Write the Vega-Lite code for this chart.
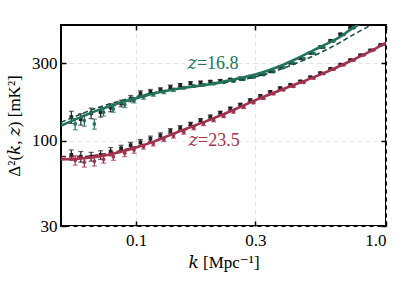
{
"$schema":"https://vega.github.io/schema/vega-lite/v6.json",
"width":325,"height":201,"autosize":"none",
"padding":{"left":61,"top":25,"right":13,"bottom":57},
"background":"white",
"config":{"view":{"stroke":"black","strokeWidth":2},"font":"'Liberation Serif', 'DejaVu Serif', serif",
"axis":{"domain":false,"labelFont":"'Liberation Serif', 'DejaVu Serif', serif","labelFontSize":17,"labelColor":"black","titleFont":"'Liberation Serif', 'DejaVu Serif', serif","titleFontSize":17,"titleFontWeight":"normal","titleColor":"black","tickColor":"black","tickWidth":1.5,"gridColor":"#e3e3e3","gridDash":[4,4],"gridWidth":1}},
"datasets":{
"lines":[
{"k":0.05,"v":124,"c":"g","st":"s"},{"k":0.06,"v":140,"c":"g","st":"s"},{"k":0.07,"v":154,"c":"g","st":"s"},{"k":0.08,"v":165,"c":"g","st":"s"},{"k":0.09,"v":175,"c":"g","st":"s"},{"k":0.1,"v":183,"c":"g","st":"s"},{"k":0.12,"v":197,"c":"g","st":"s"},{"k":0.15,"v":210,"c":"g","st":"s"},{"k":0.18,"v":218,"c":"g","st":"s"},{"k":0.22,"v":230,"c":"g","st":"s"},{"k":0.26,"v":243,"c":"g","st":"s"},{"k":0.3,"v":256,"c":"g","st":"s"},{"k":0.36,"v":280,"c":"g","st":"s"},{"k":0.45,"v":326,"c":"g","st":"s"},{"k":0.55,"v":380,"c":"g","st":"s"},{"k":0.65,"v":432,"c":"g","st":"s"},{"k":0.72,"v":482,"c":"g","st":"s"},{"k":0.78,"v":520,"c":"g","st":"s"},
{"k":0.05,"v":130,"c":"gd","st":"d"},{"k":0.06,"v":146,"c":"gd","st":"d"},{"k":0.07,"v":160,"c":"gd","st":"d"},{"k":0.08,"v":170,"c":"gd","st":"d"},{"k":0.1,"v":187,"c":"gd","st":"d"},{"k":0.12,"v":199,"c":"gd","st":"d"},{"k":0.15,"v":211,"c":"gd","st":"d"},{"k":0.18,"v":218,"c":"gd","st":"d"},{"k":0.22,"v":227,"c":"gd","st":"d"},{"k":0.26,"v":236,"c":"gd","st":"d"},{"k":0.3,"v":247,"c":"gd","st":"d"},{"k":0.36,"v":268,"c":"gd","st":"d"},{"k":0.45,"v":305,"c":"gd","st":"d"},{"k":0.55,"v":350,"c":"gd","st":"d"},{"k":0.65,"v":400,"c":"gd","st":"d"},{"k":0.75,"v":455,"c":"gd","st":"d"},{"k":0.85,"v":505,"c":"gd","st":"d"},{"k":0.9,"v":535,"c":"gd","st":"d"},
{"k":0.05,"v":77,"c":"r","st":"s"},{"k":0.06,"v":78,"c":"r","st":"s"},{"k":0.07,"v":80,"c":"r","st":"s"},{"k":0.08,"v":83,"c":"r","st":"s"},{"k":0.1,"v":91,"c":"r","st":"s"},{"k":0.12,"v":100,"c":"r","st":"s"},{"k":0.15,"v":115,"c":"r","st":"s"},{"k":0.2,"v":136,"c":"r","st":"s"},{"k":0.25,"v":157,"c":"r","st":"s"},{"k":0.3,"v":178,"c":"r","st":"s"},{"k":0.4,"v":212,"c":"r","st":"s"},{"k":0.5,"v":242,"c":"r","st":"s"},{"k":0.6,"v":272,"c":"r","st":"s"},{"k":0.7,"v":303,"c":"r","st":"s"},{"k":0.8,"v":334,"c":"r","st":"s"},{"k":0.9,"v":366,"c":"r","st":"s"},{"k":1.0,"v":400,"c":"r","st":"s"},
{"k":0.05,"v":80,"c":"rd","st":"d"},{"k":0.06,"v":80,"c":"rd","st":"d"},{"k":0.07,"v":82,"c":"rd","st":"d"},{"k":0.08,"v":85,"c":"rd","st":"d"},{"k":0.1,"v":92,"c":"rd","st":"d"},{"k":0.12,"v":101,"c":"rd","st":"d"},{"k":0.15,"v":115,"c":"rd","st":"d"},{"k":0.2,"v":136,"c":"rd","st":"d"},{"k":0.3,"v":177,"c":"rd","st":"d"},{"k":0.4,"v":211,"c":"rd","st":"d"},{"k":0.5,"v":241,"c":"rd","st":"d"},{"k":0.6,"v":271,"c":"rd","st":"d"},{"k":0.7,"v":302,"c":"rd","st":"d"},{"k":0.8,"v":334,"c":"rd","st":"d"},{"k":0.9,"v":367,"c":"rd","st":"d"},{"k":1.0,"v":402,"c":"rd","st":"d"}
],
"pts":[
{"k":0.055,"v":140,"e":12,"c":"k"},{"k":0.060,"v":136,"e":11,"c":"k"},{"k":0.066,"v":148,"e":11,"c":"k"},{"k":0.072,"v":150,"e":10,"c":"k"},{"k":0.079,"v":160,"e":9,"c":"k"},{"k":0.087,"v":170,"e":8,"c":"k"},{"k":0.095,"v":182,"e":8,"c":"k"},{"k":0.104,"v":196,"e":7,"c":"k"},{"k":0.114,"v":200,"e":7,"c":"k"},{"k":0.125,"v":206,"e":6,"c":"k"},{"k":0.137,"v":214,"e":6,"c":"k"},{"k":0.150,"v":220,"e":5,"c":"k"},{"k":0.165,"v":226,"e":5,"c":"k"},{"k":0.181,"v":228,"e":5,"c":"k"},{"k":0.198,"v":231,"e":4,"c":"k"},{"k":0.217,"v":234,"e":4,"c":"k"},{"k":0.238,"v":238,"e":4,"c":"k"},{"k":0.261,"v":242,"e":4,"c":"k"},{"k":0.286,"v":248,"e":4,"c":"k"},{"k":0.314,"v":257,"e":4,"c":"k"},{"k":0.344,"v":268,"e":4,"c":"k"},{"k":0.377,"v":285,"e":4,"c":"k"},{"k":0.414,"v":302,"e":4,"c":"k"},{"k":0.454,"v":322,"e":4,"c":"k"},{"k":0.498,"v":347,"e":4,"c":"k"},{"k":0.546,"v":377,"e":4,"c":"k"},{"k":0.599,"v":412,"e":5,"c":"k"},{"k":0.657,"v":452,"e":5,"c":"k"},{"k":0.720,"v":497,"e":5,"c":"k"},
{"k":0.057,"v":127,"e":10,"c":"g"},{"k":0.062,"v":133,"e":10,"c":"g"},{"k":0.068,"v":127,"e":9,"c":"g"},{"k":0.074,"v":150,"e":8,"c":"g"},{"k":0.081,"v":157,"e":7,"c":"g"},{"k":0.090,"v":167,"e":7,"c":"g"},{"k":0.098,"v":177,"e":6,"c":"g"},{"k":0.107,"v":186,"e":6,"c":"g"},{"k":0.117,"v":193,"e":5,"c":"g"},{"k":0.129,"v":200,"e":5,"c":"g"},{"k":0.141,"v":206,"e":5,"c":"g"},{"k":0.155,"v":212,"e":4,"c":"g"},{"k":0.170,"v":217,"e":4,"c":"g"},{"k":0.186,"v":221,"e":4,"c":"g"},{"k":0.204,"v":225,"e":4,"c":"g"},{"k":0.224,"v":229,"e":3,"c":"g"},{"k":0.245,"v":233,"e":3,"c":"g"},{"k":0.269,"v":239,"e":3,"c":"g"},{"k":0.295,"v":246,"e":3,"c":"g"},{"k":0.323,"v":255,"e":3,"c":"g"},{"k":0.354,"v":266,"e":3,"c":"g"},{"k":0.388,"v":282,"e":3,"c":"g"},{"k":0.426,"v":300,"e":3,"c":"g"},{"k":0.468,"v":320,"e":3,"c":"g"},{"k":0.513,"v":345,"e":3,"c":"g"},{"k":0.562,"v":375,"e":3,"c":"g"},{"k":0.617,"v":410,"e":3,"c":"g"},{"k":0.677,"v":450,"e":3,"c":"g"},{"k":0.742,"v":494,"e":3,"c":"g"},
{"k":0.055,"v":82,"e":6,"c":"k"},{"k":0.060,"v":80,"e":6,"c":"k"},{"k":0.066,"v":80,"e":5,"c":"k"},{"k":0.072,"v":82,"e":5,"c":"k"},{"k":0.079,"v":86,"e":5,"c":"k"},{"k":0.087,"v":90,"e":4,"c":"k"},{"k":0.095,"v":94,"e":4,"c":"k"},{"k":0.104,"v":98,"e":4,"c":"k"},{"k":0.114,"v":103,"e":4,"c":"k"},{"k":0.125,"v":108,"e":4,"c":"k"},{"k":0.137,"v":115,"e":4,"c":"k"},{"k":0.150,"v":120,"e":4,"c":"k"},{"k":0.165,"v":127,"e":3,"c":"k"},{"k":0.181,"v":134,"e":3,"c":"k"},{"k":0.198,"v":141,"e":3,"c":"k"},{"k":0.217,"v":149,"e":3,"c":"k"},{"k":0.238,"v":158,"e":3,"c":"k"},{"k":0.261,"v":167,"e":3,"c":"k"},{"k":0.286,"v":178,"e":3,"c":"k"},{"k":0.314,"v":189,"e":3,"c":"k"},{"k":0.344,"v":200,"e":3,"c":"k"},{"k":0.377,"v":211,"e":3,"c":"k"},{"k":0.414,"v":221,"e":3,"c":"k"},{"k":0.454,"v":232,"e":3,"c":"k"},{"k":0.498,"v":246,"e":3,"c":"k"},{"k":0.546,"v":261,"e":3,"c":"k"},{"k":0.599,"v":277,"e":3,"c":"k"},{"k":0.657,"v":294,"e":3,"c":"k"},{"k":0.720,"v":314,"e":3,"c":"k"},{"k":0.790,"v":336,"e":3,"c":"k"},{"k":0.866,"v":360,"e":3,"c":"k"},{"k":0.950,"v":388,"e":3,"c":"k"},
{"k":0.057,"v":76,"e":5,"c":"r"},{"k":0.062,"v":74,"e":5,"c":"r"},{"k":0.068,"v":75,"e":5,"c":"r"},{"k":0.074,"v":77,"e":4,"c":"r"},{"k":0.081,"v":80,"e":4,"c":"r"},{"k":0.090,"v":84,"e":4,"c":"r"},{"k":0.098,"v":88,"e":4,"c":"r"},{"k":0.107,"v":92,"e":3,"c":"r"},{"k":0.117,"v":96,"e":3,"c":"r"},{"k":0.129,"v":102,"e":3,"c":"r"},{"k":0.141,"v":107,"e":3,"c":"r"},{"k":0.155,"v":113,"e":3,"c":"r"},{"k":0.170,"v":120,"e":3,"c":"r"},{"k":0.186,"v":127,"e":3,"c":"r"},{"k":0.204,"v":134,"e":3,"c":"r"},{"k":0.224,"v":142,"e":3,"c":"r"},{"k":0.245,"v":151,"e":3,"c":"r"},{"k":0.269,"v":161,"e":3,"c":"r"},{"k":0.295,"v":172,"e":3,"c":"r"},{"k":0.323,"v":183,"e":3,"c":"r"},{"k":0.354,"v":195,"e":3,"c":"r"},{"k":0.388,"v":206,"e":3,"c":"r"},{"k":0.426,"v":216,"e":3,"c":"r"},{"k":0.468,"v":229,"e":3,"c":"r"},{"k":0.513,"v":243,"e":3,"c":"r"},{"k":0.562,"v":259,"e":3,"c":"r"},{"k":0.617,"v":275,"e":3,"c":"r"},{"k":0.677,"v":293,"e":3,"c":"r"},{"k":0.742,"v":313,"e":3,"c":"r"},{"k":0.814,"v":337,"e":3,"c":"r"},{"k":0.892,"v":362,"e":3,"c":"r"},{"k":0.979,"v":391,"e":3,"c":"r"}
],
"labels":[{"k":0.203,"v":295,"c":"g","t":"𝑧=16.8"},{"k":0.205,"v":100,"c":"r","t":"𝑧=23.5"}]
},
"layer":[
{"data":{"name":"pts"},"mark":{"type":"errorbar","ticks":true,"thickness":1.2,"clip":true},
"encoding":{
"x":{"field":"k","type":"quantitative","scale":{"type":"log","domain":[0.05,1.0]},"axis":{"orient":"bottom","values":[0.1,0.3,1.0],"format":".1f","title":"𝑘 [Mpc⁻¹]","tickSize":-5,"labelPadding":11,"titlePadding":6,"grid":true}},
"y":{"field":"v","type":"quantitative","scale":{"type":"log","domain":[30,515]},"axis":{"orient":"left","values":[30,100,300],"format":"d","title":"Δ²(𝑘, 𝑧) [mK²]","tickSize":-5,"labelPadding":9,"titlePadding":8,"grid":true}},
"yError":{"field":"e"},
"color":{"field":"c","type":"nominal","scale":{"domain":["g","r","k","gd","rd"],"range":["#23725b","#a3324f","#222222","#174f40","#6e2035"]},"legend":null}}},
{"data":{"name":"pts"},"mark":{"type":"point","filled":true,"opacity":1,"clip":true},
"encoding":{
"x":{"field":"k","type":"quantitative","scale":{"type":"log","domain":[0.05,1.0]},"axis":null},
"y":{"field":"v","type":"quantitative","scale":{"type":"log","domain":[30,515]},"axis":null},
"shape":{"field":"c","type":"nominal","scale":{"domain":["g","r","k"],"range":["circle","circle","square"]},"legend":null},
"size":{"value":14},
"color":{"field":"c","type":"nominal","legend":null}}},
{"data":{"name":"lines"},"transform":[{"filter":"datum.st == 'd'"}],"mark":{"type":"line","strokeWidth":1.6,"strokeDash":[5,3],"interpolate":"monotone","clip":true},
"encoding":{
"x":{"field":"k","type":"quantitative","scale":{"type":"log","domain":[0.05,1.0]},"axis":null},
"y":{"field":"v","type":"quantitative","scale":{"type":"log","domain":[30,515]},"axis":null},
"color":{"field":"c","type":"nominal","legend":null}}},
{"data":{"name":"lines"},"transform":[{"filter":"datum.st == 's'"}],"mark":{"type":"line","strokeWidth":2.6,"interpolate":"monotone","clip":true},
"encoding":{
"x":{"field":"k","type":"quantitative","scale":{"type":"log","domain":[0.05,1.0]},"axis":{"orient":"top","values":[0.1,0.3,1.0],"labels":false,"title":null,"grid":false,"tickSize":-5}},
"y":{"field":"v","type":"quantitative","scale":{"type":"log","domain":[30,515]},"axis":{"orient":"right","values":[30,100,300],"labels":false,"title":null,"grid":false,"tickSize":-5}},
"color":{"field":"c","type":"nominal","legend":null}}},
{"data":{"name":"labels"},"mark":{"type":"text","fontSize":18,"font":"'Liberation Serif', 'DejaVu Serif', serif","align":"center","baseline":"middle"},
"encoding":{
"x":{"field":"k","type":"quantitative","scale":{"type":"log","domain":[0.05,1.0]},"axis":null},
"y":{"field":"v","type":"quantitative","scale":{"type":"log","domain":[30,515]},"axis":null},
"text":{"field":"t"},
"color":{"field":"c","type":"nominal","legend":null}}}
],
"resolve":{"axis":{"x":"independent","y":"independent"}}
}
